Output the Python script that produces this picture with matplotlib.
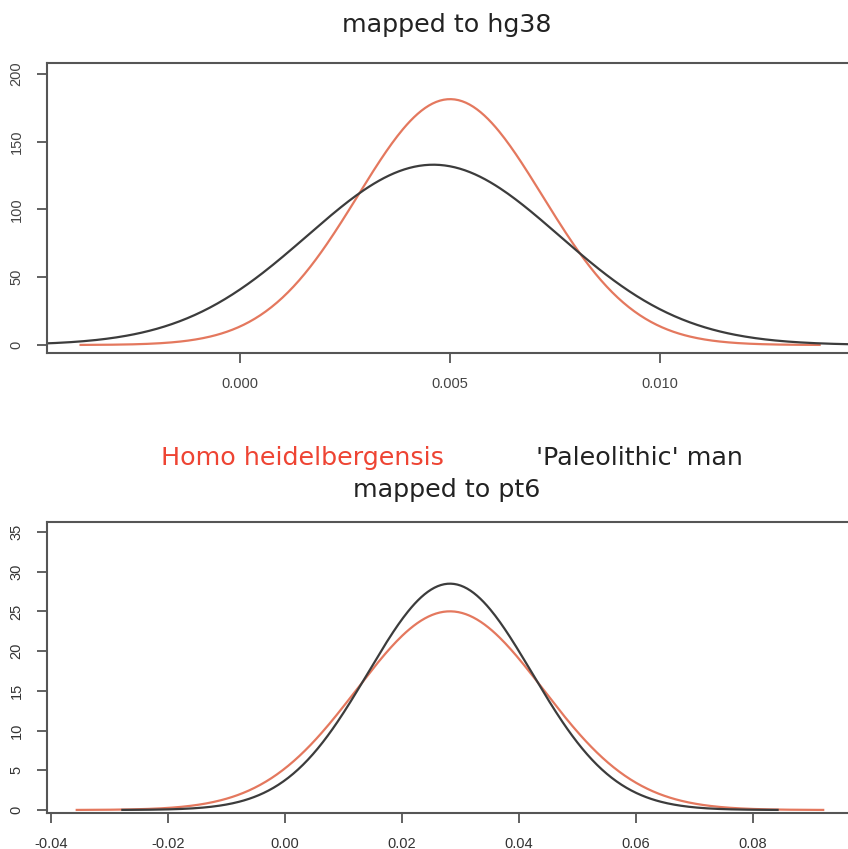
import numpy as np
import matplotlib
matplotlib.use("Agg")
import matplotlib.pyplot as plt

# ---- data: normal density parameters (mean, sd) ----
series_names = ["Homo heidelbergensis", "'Paleolithic' man"]
hg38_means = [0.0050, 0.0046]
hg38_sds = [0.0022, 0.0030]
pt6_means = [0.0282, 0.0282]
pt6_sds = [0.01595, 0.0140]

hg38_xticks = [0.000, 0.005, 0.010]
hg38_xticklabels = ["0.000", "0.005", "0.010"]
hg38_yticks = [0, 50, 100, 150, 200]
pt6_xticks = [-0.04, -0.02, 0.00, 0.02, 0.04, 0.06, 0.08]
pt6_xticklabels = ["-0.04", "-0.02", "0.00", "0.02", "0.04", "0.06", "0.08"]
pt6_yticks = [0, 5, 10, 15, 20, 25, 30, 35]

colors = ["#E4785E", "#3C3C3C"]
W, H = 848, 849
fig = plt.figure(figsize=(W / 100, H / 100), dpi=100)


def ax_at(left, top, right, bottom):
    return fig.add_axes([left / W, 1 - bottom / H, (right - left) / W, (bottom - top) / H])


def density(m, s, x):
    return np.exp(-0.5 * ((x - m) / s) ** 2) / (s * np.sqrt(2 * np.pi))


def style(ax, xticks, xlabels, yticks, tickcolor):
    for sp in ["left", "bottom", "top"]:
        ax.spines[sp].set_color("#555555")
        ax.spines[sp].set_linewidth(1.5)
    ax.spines["right"].set_visible(False)
    ax.set_xticks(xticks)
    ax.set_xticklabels(xlabels)
    ax.set_yticks(yticks)
    ax.set_yticklabels([str(v) for v in yticks], rotation=90, va="center")
    ax.tick_params(axis="both", length=7, width=1.3, color="#555555",
                   labelsize=10.5, labelcolor=tickcolor)
    ax.tick_params(axis="x", pad=10)
    ax.tick_params(axis="y", pad=10)
    for lab in ax.get_xticklabels() + ax.get_yticklabels():
        lab.set_family("Liberation Sans")


# ---- top panel ----
ax1 = ax_at(47, 63, 860, 353)
ax1.set_xlim(-0.0046, (860 - 240) / 42000)
ax1.set_ylim(-5.9, 208)
for m, s, c in zip(hg38_means, hg38_sds, colors):
    x = np.linspace(m - 4 * s, m + 4 * s, 400)
    ax1.plot(x, density(m, s, x), color=c, lw=1.6)
style(ax1, hg38_xticks, hg38_xticklabels, hg38_yticks, "#444444")

# ---- bottom panel ----
ax2 = ax_at(47, 522, 860, 813)
ax2.set_xlim((47 - 285) / 5850, (860 - 285) / 5850)
ax2.set_ylim(-0.38, 36.26)
for m, s, c in zip(pt6_means, pt6_sds, colors):
    x = np.linspace(m - 4 * s, m + 4 * s, 400)
    ax2.plot(x, density(m, s, x), color=c, lw=1.6)
style(ax2, pt6_xticks, pt6_xticklabels, pt6_yticks, "#333333")

# ---- texts ----
tfont = "DejaVu Sans"
fs = 18.3
fig.text(447 / W, 1 - 25 / H, "mapped to hg38", ha="center", va="center",
         fontsize=fs, family=tfont, color="#222222")
fig.text(302 / W, 1 - 458 / H, series_names[0], ha="center", va="center",
         fontsize=fs, family=tfont, color="#EE4433")
fig.text(639 / W, 1 - 458 / H, series_names[1], ha="center", va="center",
         fontsize=fs, family=tfont, color="#222222")
fig.text(447 / W, 1 - 490 / H, "mapped to pt6", ha="center", va="center",
         fontsize=fs, family=tfont, color="#222222")

fig.savefig("out.png", dpi=100)
